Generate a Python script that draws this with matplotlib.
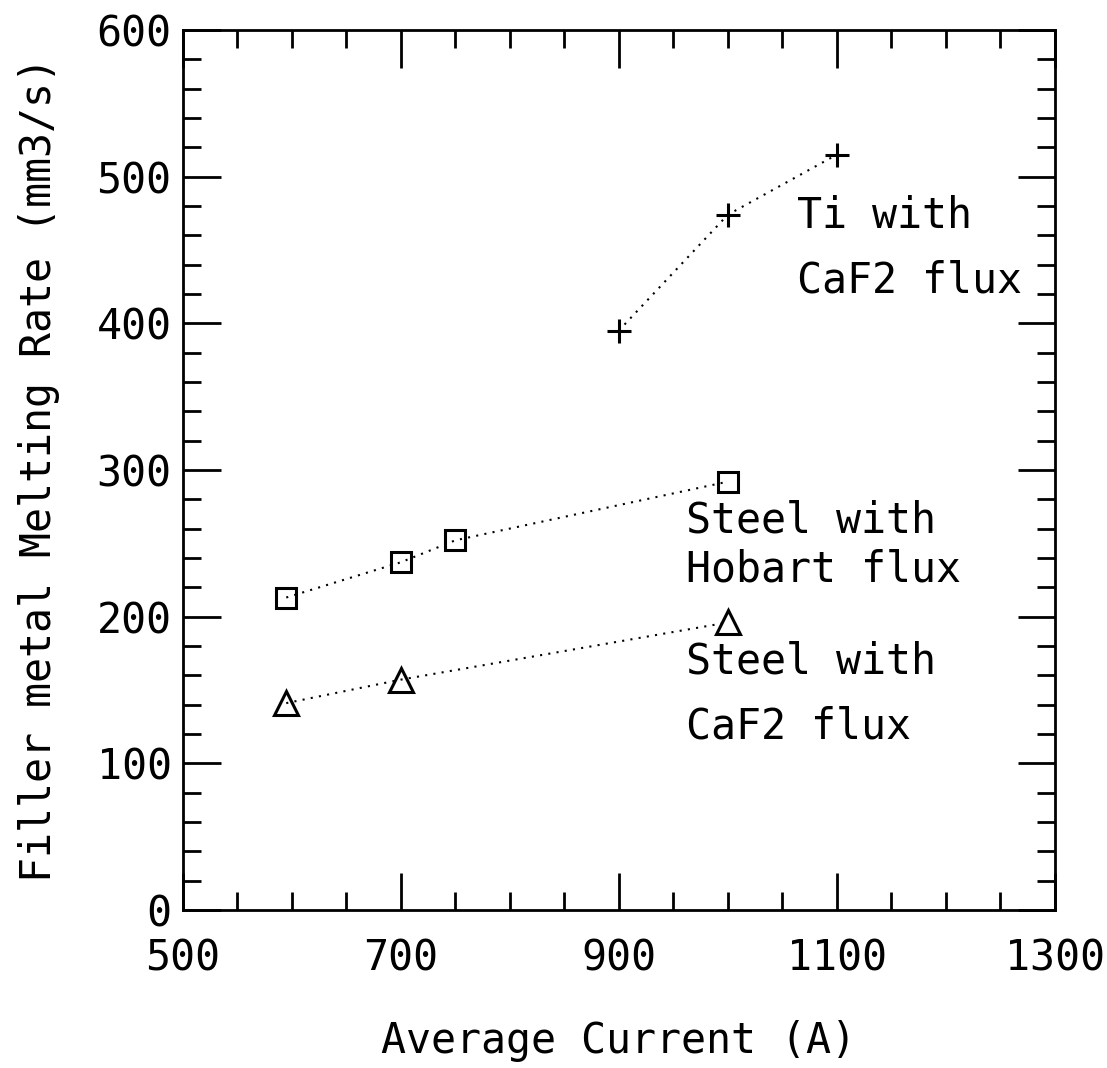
import matplotlib
matplotlib.use("Agg")
import matplotlib.pyplot as plt
from matplotlib.ticker import MultipleLocator, FixedLocator

plt.rcParams['font.family'] = ['DejaVu Sans Mono']

# Data
ti_x = [900, 1000, 1100]
ti_y = [395, 474, 515]
hob_x = [595, 700, 750, 1000]
hob_y = [213, 237, 252, 292]
caf_x = [595, 700, 1000]
caf_y = [141, 157, 196]

x_major = [500, 700, 900, 1100, 1300]

labels = [
    ("Ti with", 1063, 465),
    ("CaF2 flux", 1063, 421),
    ("Steel with", 962, 257),
    ("Hobart flux", 962, 224),
    ("Steel with", 962, 161),
    ("CaF2 flux", 962, 117),
]

fig = plt.figure(figsize=(11.07, 10.68), dpi=100)
ax = fig.add_axes([0.165, 0.148, 0.788, 0.824])

line_kw = dict(color='black', linestyle=(0, (1, 3)), linewidth=1.5, markerfacecolor='none',
               markeredgecolor='black', markeredgewidth=2.2)
ax.plot(ti_x, ti_y, marker='+', markersize=17, **line_kw)
ax.plot(hob_x, hob_y, marker='s', markersize=14, **line_kw)
ax.plot(caf_x, caf_y, marker='^', markersize=17, **line_kw)

for txt, x, y in labels:
    ax.text(x, y, txt, fontsize=30, va='baseline', ha='left')

ax.set_xlim(500, 1300)
ax.set_ylim(0, 600)
ax.xaxis.set_major_locator(FixedLocator(x_major))
ax.xaxis.set_minor_locator(MultipleLocator(50))
ax.yaxis.set_major_locator(MultipleLocator(100))
ax.yaxis.set_minor_locator(MultipleLocator(20))
ax.tick_params(which='both', direction='in', top=True, right=True, width=2, labelsize=30)
ax.tick_params(which='major', length=27)
ax.tick_params(axis='x', which='major', pad=20)
ax.tick_params(axis='y', which='major', pad=8)
ax.tick_params(which='minor', length=13)
for s in ax.spines.values():
    s.set_linewidth(2)

xl = ax.set_xlabel("Average Current (A)", fontsize=30)
xl.set_va('baseline')
ax.xaxis.set_label_coords(0.5, -0.163)
ax.set_ylabel("Filler metal Melting Rate (mm3/s)", fontsize=30, labelpad=26)

fig.savefig("out.png", dpi=100)
